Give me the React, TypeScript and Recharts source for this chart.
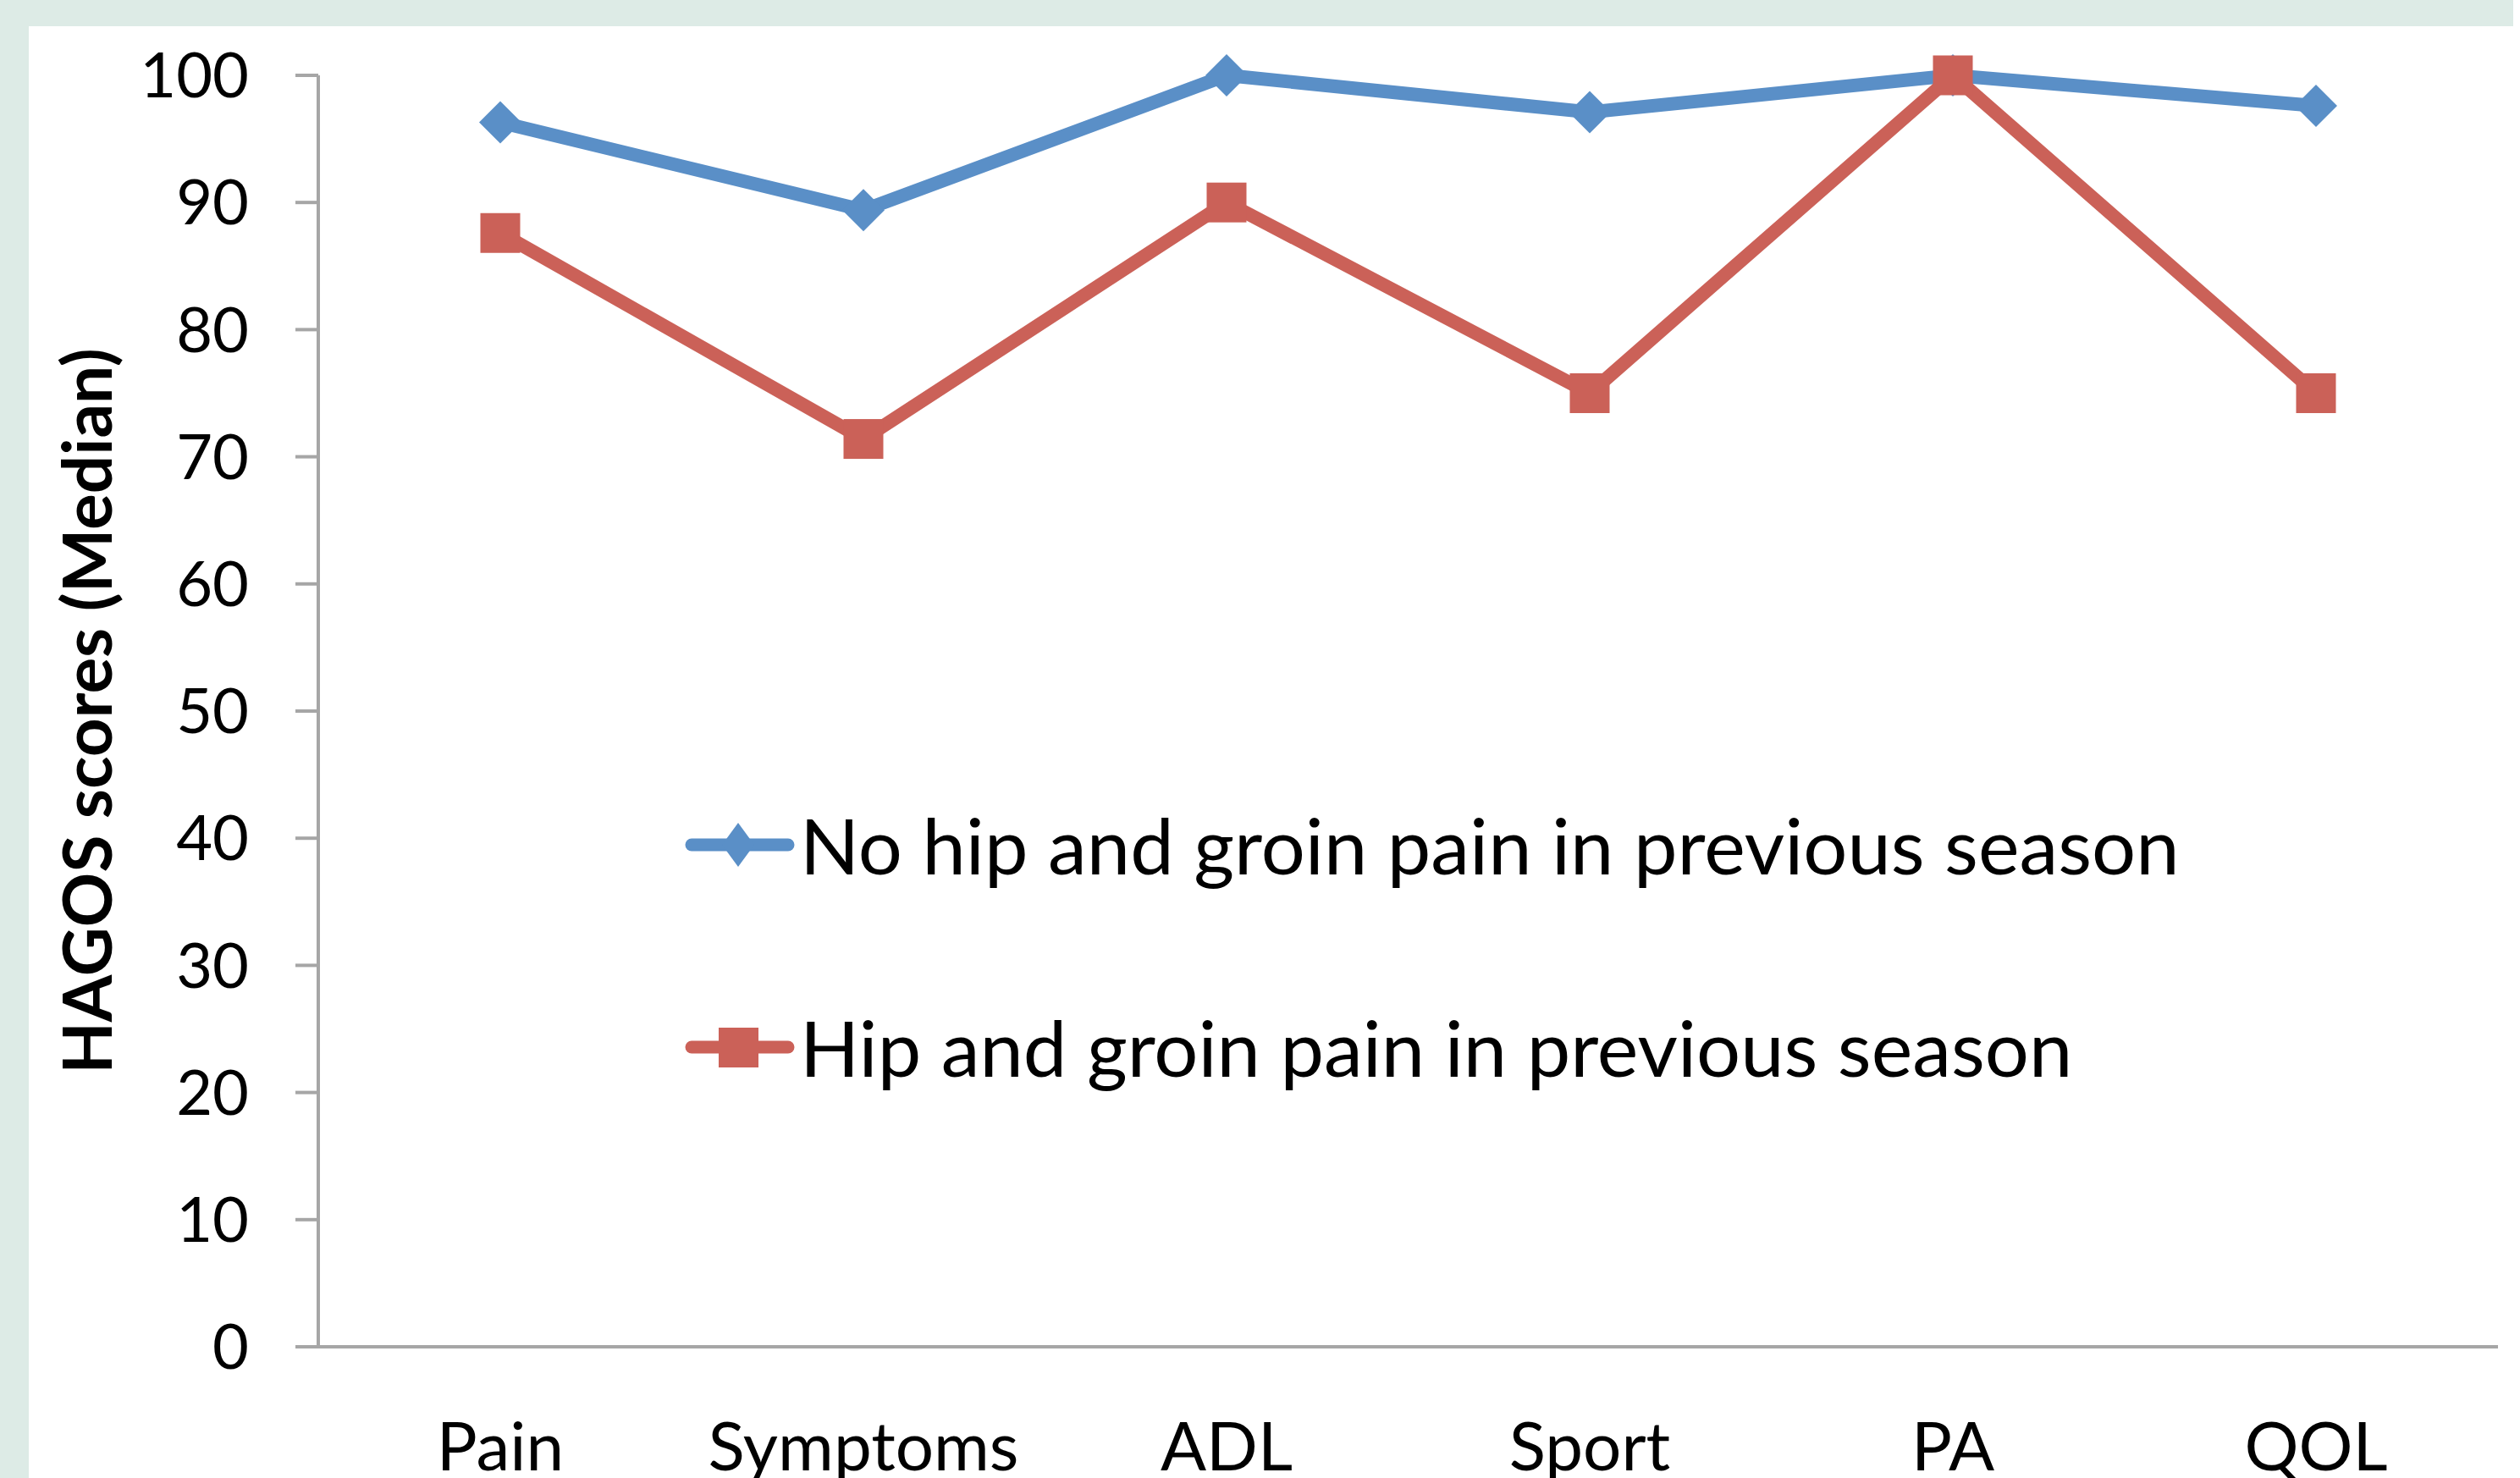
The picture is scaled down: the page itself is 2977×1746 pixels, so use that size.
import React from 'react';
import { LineChart, Line, XAxis, YAxis, Legend } from 'recharts';

const categories = ['Pain', 'Symptoms', 'ADL', 'Sport', 'PA', 'QOL'];
const noPainValues = [96.3, 89.4, 100, 97.1, 100, 97.6];
const painValues = [87.6, 71.4, 90, 75, 100, 75];
const yTicks = [0, 10, 20, 30, 40, 50, 60, 70, 80, 90, 100];
const seriesNames = ['No hip and groin pain in previous season', 'Hip and groin pain in previous season'];
const yLabel = 'HAGOS scores (Median)';

const BLUE = '#5A8FC7';
const RED = '#CB6158';
const AXIS = '#A6A6A6';
const FONT = 'Lato, "Open Sans", sans-serif';

const data = categories.map((c, i) => ({ category: c, noPain: noPainValues[i], pain: painValues[i] }));

const Diamond = (props: any) => {
  const { cx, cy } = props;
  if (cx == null || cy == null) return null;
  const h = 25;
  return <polygon points={`${cx},${cy - h} ${cx + h},${cy} ${cx},${cy + h} ${cx - h},${cy}`} fill={BLUE} />;
};

const Square = (props: any) => {
  const { cx, cy } = props;
  if (cx == null || cy == null) return null;
  const s = 47;
  return <rect x={cx - s / 2} y={cy - s / 2} width={s} height={s} fill={RED} />;
};

const LegendContent = () => {
  const items = [
    { name: seriesNames[0], color: BLUE, shape: 'diamond' },
    { name: seriesNames[1], color: RED, shape: 'square' },
  ];
  return (
    <div style={{ fontFamily: FONT }}>
      {items.map((it) => (
        <div key={it.name} style={{ height: 239, display: 'flex', alignItems: 'center' }}>
          <svg width={136} height={60} style={{ display: 'block' }}>
            <line x1={8} y1={30} x2={122} y2={30} stroke={it.color} strokeWidth={15} strokeLinecap="round" />
            {it.shape === 'diamond' ? (
              <polygon points="63,4 82,30 63,56 44,30" fill={it.color} />
            ) : (
              <rect x={40} y={7} width={47} height={47} fill={it.color} />
            )}
          </svg>
          <span style={{ fontSize: 92, color: '#000', whiteSpace: 'nowrap', lineHeight: 1 }}>{it.name}</span>
        </div>
      ))}
    </div>
  );
};

const YAxisLabel = (props: any) => {
  const vb = props.viewBox || {};
  const x = (vb.x || 0) + 101;
  const y = (vb.y || 0) + (vb.height || 0) / 2;
  return (
    <text
      x={x}
      y={y}
      transform={`rotate(-90, ${x}, ${y})`}
      textAnchor="middle"
      dominantBaseline="central"
      fontWeight="bold"
      fontSize={80}
      fill="#000"
      fontFamily={FONT}
    >
      {yLabel}
    </text>
  );
};

export default function App() {
  return (
    <div style={{ position: 'absolute', left: 0, top: 0, width: 2977, height: 1746, background: '#DDEBE6', fontFamily: FONT, overflow: 'hidden' }}>
      <div style={{ position: 'absolute', left: 34, top: 31, width: 2977 - 34, height: 1746 - 31, background: '#FFFFFF' }} />
      <div style={{ position: 'absolute', left: 2969, top: 0, width: 8, height: 31, background: '#FFFFFF' }} />
      <div style={{ position: 'absolute', left: 0, top: 0 }}>
        <LineChart width={2977} height={1746} data={data} margin={{ top: 89, right: 26, bottom: 0, left: 0 }}>
          <XAxis
            dataKey="category"
            height={155}
            tickLine={false}
            axisLine={{ stroke: AXIS, strokeWidth: 4 }}
            tick={{ fill: '#000', fontSize: 80 }}
            tickMargin={83}
            interval={0}
            padding={{ left: 215, right: 215 }}
          />
          <YAxis
            domain={[0, 100]}
            ticks={yTicks}
            interval={0}
            width={376}
            tickSize={27}
            tickMargin={55}
            axisLine={{ stroke: AXIS, strokeWidth: 4 }}
            tickLine={{ stroke: AXIS, strokeWidth: 4 }}
            tick={{ fill: '#000', fontSize: 74 }}
            label={<YAxisLabel />}
          />
          <Legend
            layout="vertical"
            verticalAlign="middle"
            align="center"
            content={<LegendContent />}
            wrapperStyle={{ left: 809, top: 878, width: 1900 }}
          />
          <Line
            name={seriesNames[0]}
            dataKey="noPain"
            stroke={BLUE}
            strokeWidth={16}
            dot={<Diamond />}
            activeDot={false}
            isAnimationActive={false}
          />
          <Line
            name={seriesNames[1]}
            dataKey="pain"
            stroke={RED}
            strokeWidth={16}
            dot={<Square />}
            activeDot={false}
            isAnimationActive={false}
          />
        </LineChart>
      </div>
    </div>
  );
}
